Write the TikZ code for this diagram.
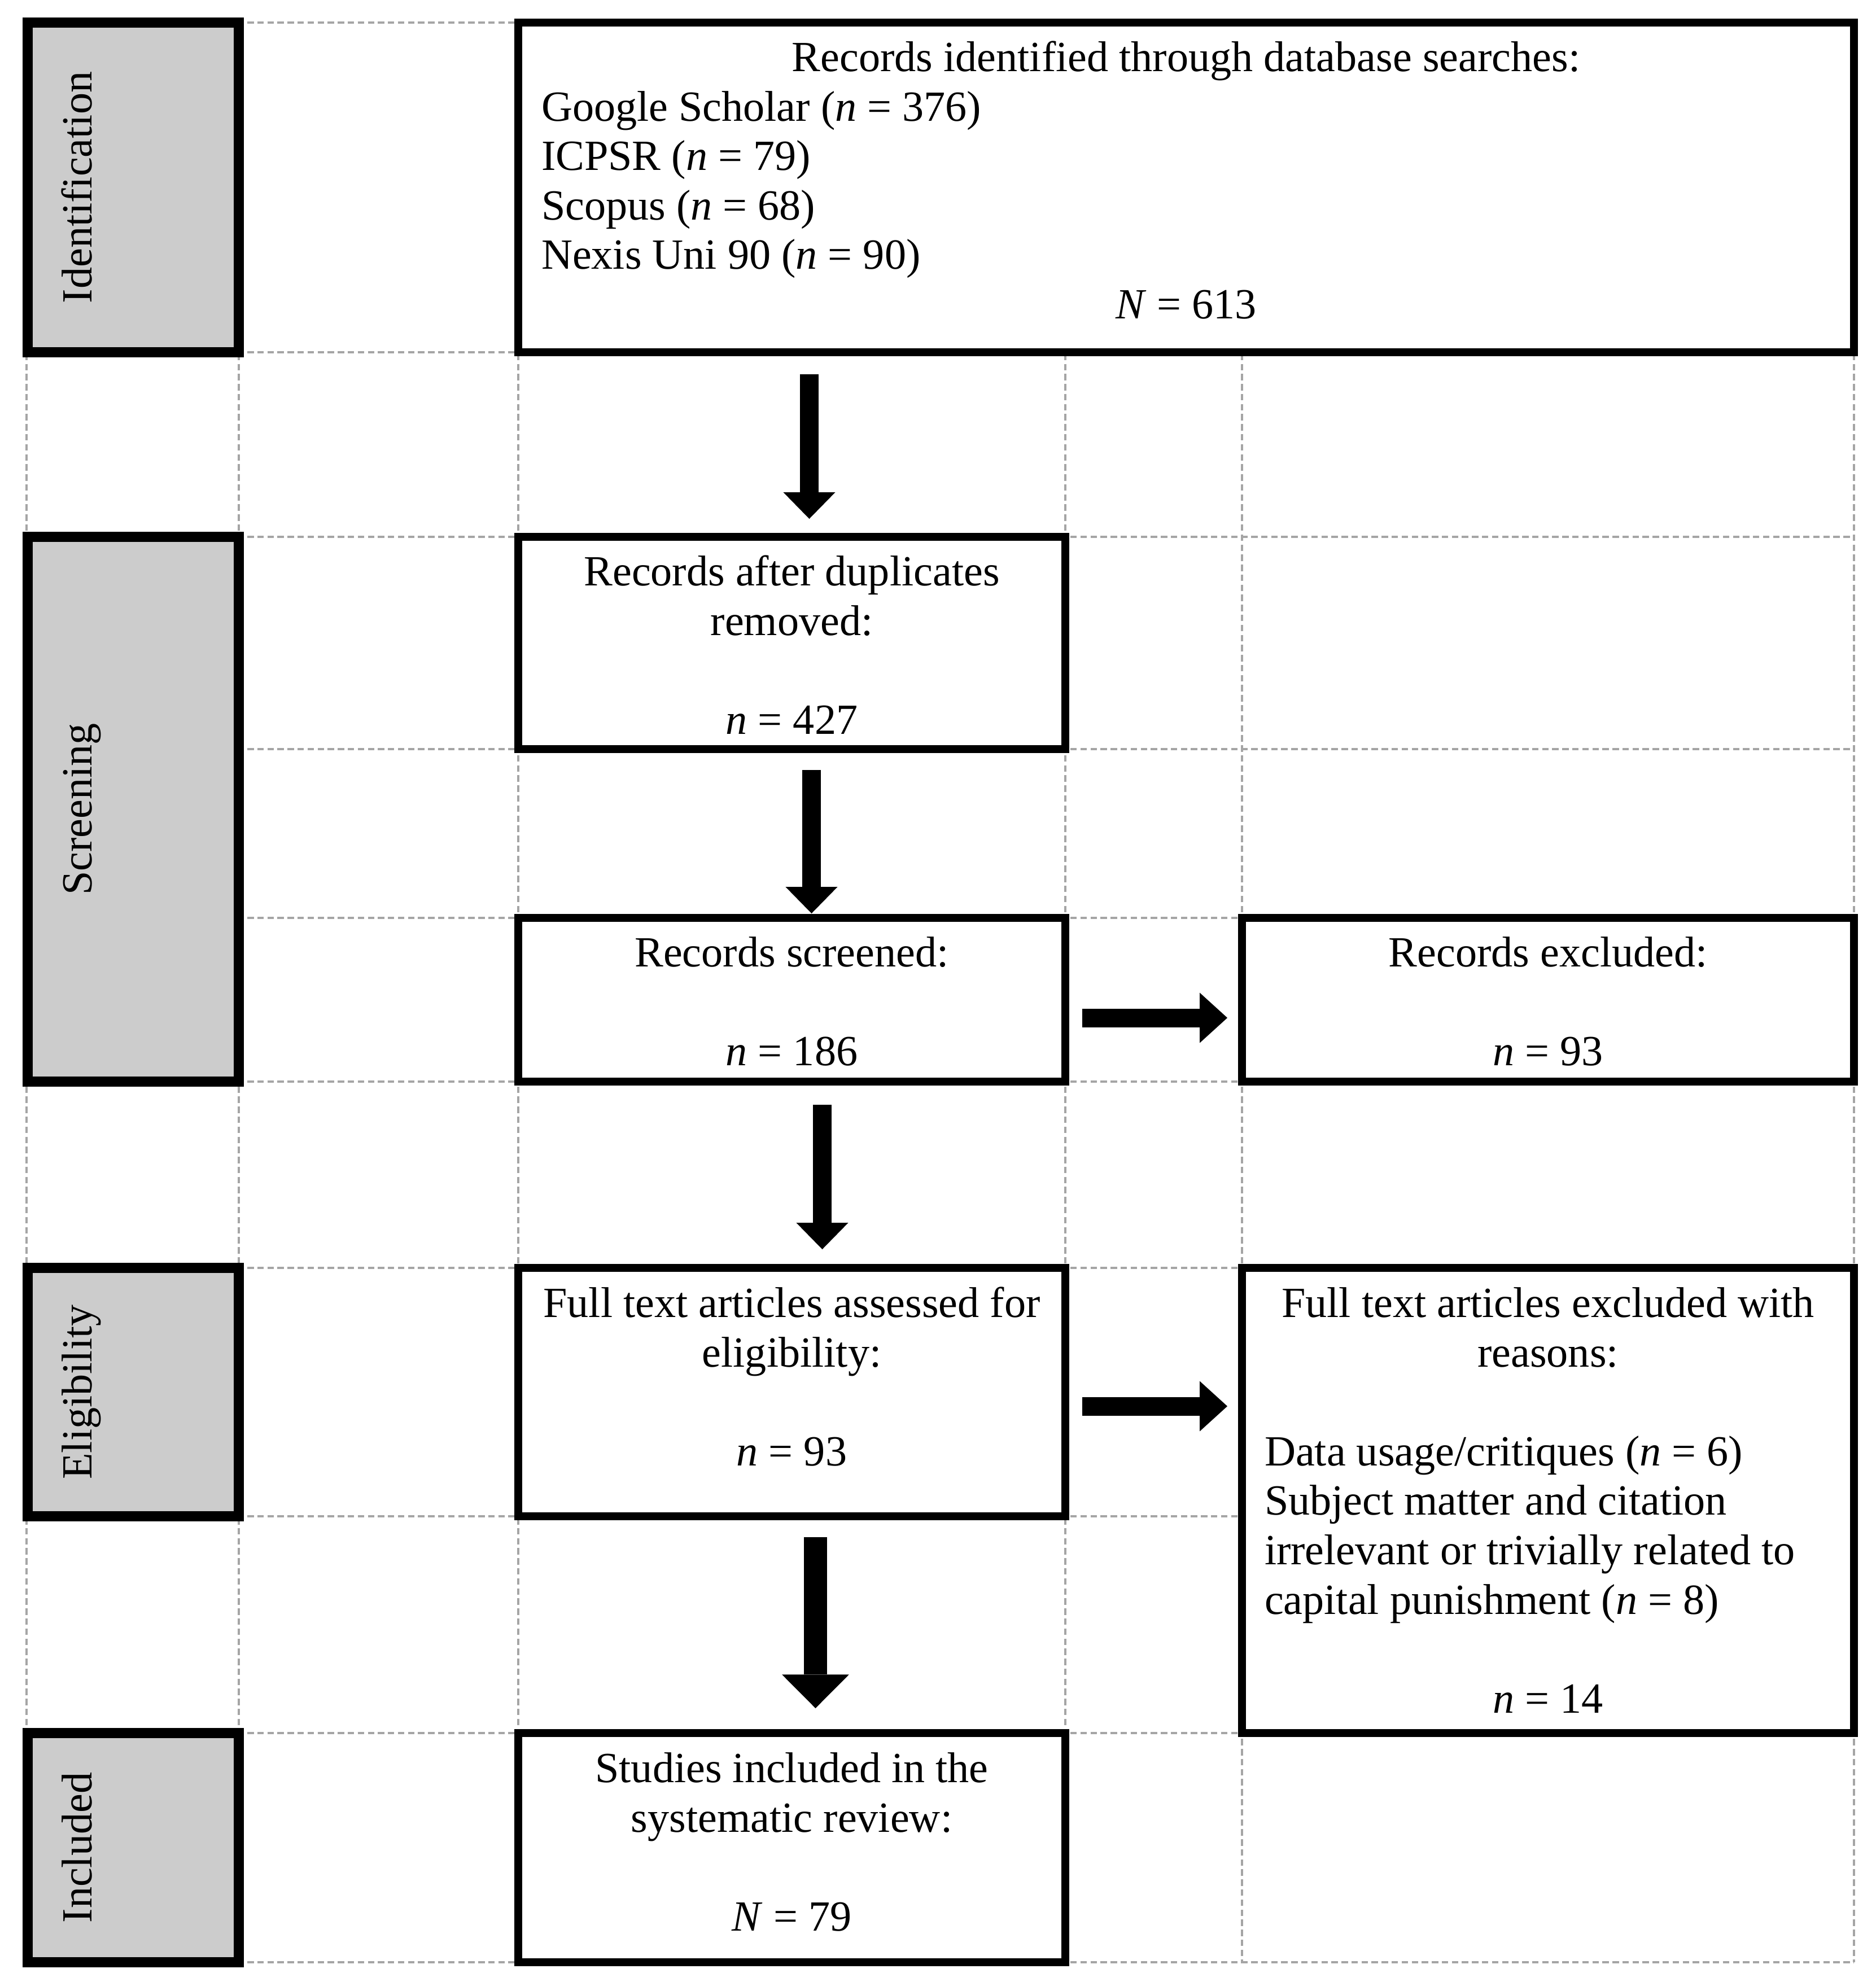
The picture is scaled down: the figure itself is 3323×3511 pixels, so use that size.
\documentclass[tikz,border=0pt]{standalone}
\usepackage{fontspec}
\setmainfont{Liberation Serif}
\usetikzlibrary{arrows.meta,calc,fit}
\definecolor{gridgray}{RGB}{165,165,165}
\definecolor{phasegray}{RGB}{204,204,204}
\begin{document}
\begin{tikzpicture}[x=0.15748pt,y=-0.15748pt,
  gridline/.style={draw=gridgray, line width=0.55pt, dash pattern=on 1.8pt off 1.0pt},
  phasebox/.style={rectangle, draw=black, fill=phasegray, line width=2.7pt, inner sep=0pt, outer sep=0pt},
  mainbox/.style={rectangle, draw=black, fill=white, line width=2.1pt, inner sep=0pt, outer sep=0pt},
  txt/.style={font=\fontsize{12pt}{13.8pt}\selectfont, inner sep=0pt, outer sep=0pt},
  lbl/.style={txt, rotate=90, anchor=base},
  varrow/.style={line width=5.1pt, -{Triangle[length=7.4pt,width=14.5pt,line width=0pt]}},
  bigarrow/.style={line width=6.6pt, -{Triangle[length=9.4pt,width=18.7pt,line width=0pt]}},
  harrow/.style={line width=5.2pt, -{Triangle[length=7.7pt,width=14pt,line width=0pt]}}
]
\useasboundingbox (0,0) rectangle (3323,3511);

% dashed table grid
\foreach \y in {40,624,951,1327,1626,1916,2246,2686,3070,3476}
  \draw[gridline] (47,\y) -- (3284,\y);
\foreach \x in {47,423,918,1887,2200,3284}
  \draw[gridline] (\x,40) -- (\x,3476);

% phase boxes
\node[phasebox, fit={(49,40) (423,624)}] (p1) {};
\node[phasebox, fit={(49,951) (423,1916)}] (p2) {};
\node[phasebox, fit={(49,2246) (423,2686)}] (p3) {};
\node[phasebox, fit={(49,3070) (423,3476)}] (p4) {};
\node[lbl] (l1) at ($(p1.center)+(-74,0)$) {Identification};
\node[lbl] (l2) at ($(p2.center)+(-74,0)$) {Screening};
\node[lbl] (l3) at ($(p3.center)+(-74,0)$) {Eligibility};
\node[lbl] (l4) at ($(p4.center)+(-74,0)$) {Included};

% main boxes
\node[mainbox, fit={(918,40) (3284,624)}] (b1) {};
\node[mainbox, fit={(918,951) (1887,1327)}] (b2) {};
\node[mainbox, fit={(918,1626) (1887,1916)}] (b3) {};
\node[mainbox, fit={(2200,1626) (3284,1916)}] (b4) {};
\node[mainbox, fit={(918,2246) (1887,2686)}] (b6) {};
\node[mainbox, fit={(2200,2246) (3284,3070)}] (b5) {};
\node[mainbox, fit={(918,3070) (1887,3476)}] (b7) {};

% texts
\node[txt, anchor=base] (t1a) at ($(b1.north)+(0,86)$) {Records identified through database searches:};
\node[txt, anchor=base west] (t1b) at ($(b1.north west)+(41,174)$) {Google Scholar (\textit{n} = 376)};
\node[txt, anchor=base west] (t1c) at ($(b1.north west)+(41,261)$) {ICPSR (\textit{n} = 79)};
\node[txt, anchor=base west] (t1d) at ($(b1.north west)+(41,349)$) {Scopus (\textit{n} = 68)};
\node[txt, anchor=base west] (t1e) at ($(b1.north west)+(41,436)$) {Nexis Uni 90 (\textit{n} = 90)};
\node[txt, anchor=base] (t1f) at ($(b1.north)+(0,524)$) {\textit{N} = 613};

\node[txt, anchor=base] (t2a) at ($(b2.north)+(0,86)$) {Records after duplicates};
\node[txt, anchor=base] (t2b) at ($(b2.north)+(0,174)$) {removed:};
\node[txt, anchor=base] (t2c) at ($(b2.north)+(0,349)$) {\textit{n} = 427};

\node[txt, anchor=base] (t3a) at ($(b3.north)+(0,86)$) {Records screened:};
\node[txt, anchor=base] (t3b) at ($(b3.north)+(0,261)$) {\textit{n} = 186};

\node[txt, anchor=base] (t4a) at ($(b4.north)+(0,86)$) {Records excluded:};
\node[txt, anchor=base] (t4b) at ($(b4.north)+(0,261)$) {\textit{n} = 93};

\node[txt, anchor=base] (t6a) at ($(b6.north)+(0,87)$) {Full text articles assessed for};
\node[txt, anchor=base] (t6b) at ($(b6.north)+(0,175)$) {eligibility:};
\node[txt, anchor=base] (t6c) at ($(b6.north)+(0,350)$) {\textit{n} = 93};

\node[txt, anchor=base] (t5a) at ($(b5.north)+(0,87)$) {Full text articles excluded with};
\node[txt, anchor=base] (t5b) at ($(b5.north)+(0,175)$) {reasons:};
\node[txt, anchor=base west] (t5c) at ($(b5.north west)+(40,350)$) {Data usage/critiques (\textit{n} = 6)};
\node[txt, anchor=base west] (t5d) at ($(b5.north west)+(40,437)$) {Subject matter and citation};
\node[txt, anchor=base west] (t5e) at ($(b5.north west)+(40,525)$) {irrelevant or trivially related to};
\node[txt, anchor=base west] (t5f) at ($(b5.north west)+(40,613)$) {capital punishment (\textit{n} = 8)};
\node[txt, anchor=base] (t5g) at ($(b5.north)+(0,788)$) {\textit{n} = 14};

\node[txt, anchor=base] (t7a) at ($(b7.north)+(0,87)$) {Studies included in the};
\node[txt, anchor=base] (t7b) at ($(b7.north)+(0,175)$) {systematic review:};
\node[txt, anchor=base] (t7c) at ($(b7.north)+(0,350)$) {\textit{N} = 79};

% arrows
\draw[varrow] ($(b1.south -| b2.north)+(31,39)$) -- ($(b2.north)+(31,-32)$);
\draw[varrow] ($(b2.south)+(35,37)$) -- ($(b3.north)+(35,-8)$);
\draw[varrow] ($(b3.south)+(54,41)$) -- ($(b6.north)+(54,-33)$);
\draw[bigarrow] ($(b6.south)+(42,37)$) -- ($(b7.north)+(42,-44)$);
\draw[harrow] ($(b3.east)+(30,32)$) -- ($(b4.west)+(-26,32)$);
\draw[harrow] ($(b6.east)+(30,25)$) -- ($(b6.east -| b5.west)+(-26,25)$);
\end{tikzpicture}
\end{document}
